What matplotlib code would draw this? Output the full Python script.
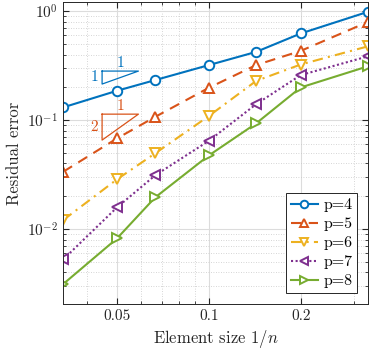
import numpy as np
import matplotlib
matplotlib.use('Agg')
import matplotlib.pyplot as plt
from matplotlib.ticker import FixedLocator, NullFormatter

plt.rcParams['font.family'] = ['cmr10', 'DejaVu Serif']
plt.rcParams['mathtext.fontset'] = 'cm'
plt.rcParams['axes.formatter.use_mathtext'] = True

# element counts n -> element size 1/n
n = np.array([30, 20, 15, 10, 7, 5, 3])
h = 1.0 / n

err_p4 = [0.131, 0.186, 0.233, 0.320, 0.423, 0.624, 0.99]
err_p5 = [0.0336, 0.0679, 0.107, 0.198, 0.320, 0.432, 0.80]
err_p6 = [0.0121, 0.0286, 0.0495, 0.109, 0.229, 0.324, 0.477]
err_p7 = [0.00527, 0.0158, 0.0311, 0.0646, 0.140, 0.259, 0.386]
err_p8 = [0.00313, 0.0082, 0.0195, 0.0474, 0.0933, 0.1995, 0.313]

labels = ['p=4', 'p=5', 'p=6', 'p=7', 'p=8']
colors = ['#0072BD', '#D95319', '#EDB120', '#7E2F8E', '#77AC30']
markers = ['o', '^', 'v', '<', '>']
styles = ['-', (0, (5, 3.5)), (0, (5, 2.5, 1, 2.5)), (0, (1, 1.2)), '-']

fig = plt.figure(figsize=(3.74, 3.54), dpi=100)
ax = fig.add_axes([0.169, 0.141, 0.816, 0.854])

for err, lab, c, m, ls in zip([err_p4, err_p5, err_p6, err_p7, err_p8],
                              labels, colors, markers, styles):
    ax.loglog(h, err, ls=ls, color=c, marker=m, mfc='white', mew=1.4,
              ms=6.8, lw=1.5, label=lab)

# slope triangles
def slope_tri(x0, x1, ytop, slope, c, lab_top, lab_left):
    ybot = ytop * (x0 / x1) ** slope
    ax.plot([x0, x1, x0, x0], [ytop, ytop, ybot, ytop], color=c, lw=0.9)
    ax.text(np.sqrt(x0 * x1), ytop * 1.03, lab_top, color=c, ha='center',
            va='bottom', fontsize=11)
    ax.text(x0 * 0.97, np.sqrt(ytop * ybot), lab_left, color=c, ha='right',
            va='center', fontsize=11)

slope_tri(0.0447, 0.0588, 0.282, 1, colors[0], '1', '1')
slope_tri(0.0447, 0.0588, 0.1135, 2, colors[1], '1', '2')

ax.set_xlim(1 / 30, 1 / 3)
ax.set_ylim(2.05e-3, 1.22)
ax.xaxis.set_major_locator(FixedLocator([0.05, 0.1, 0.2]))
ax.xaxis.set_minor_locator(FixedLocator([0.04, 0.06, 0.07, 0.08, 0.09, 0.3]))
ax.xaxis.set_major_formatter(matplotlib.ticker.FixedFormatter(['0.05', '0.1', '0.2']))
ax.xaxis.set_minor_formatter(NullFormatter())

ax.grid(True, which='major', color='#dcdcdc', lw=0.8, ls='-')
ax.grid(True, which='minor', color='#c8c8c8', lw=0.6, ls=(0, (1, 2)))
ax.set_axisbelow(True)
ax.tick_params(which='both', direction='in', top=True, right=True,
               colors='#262626', labelsize=11)
ax.tick_params(which='major', length=4)
ax.tick_params(which='minor', length=2)
for s in ax.spines.values():
    s.set_color('#262626')
    s.set_linewidth(0.7)

ax.set_xlabel('Element size $1/n$', fontsize=12, color='#262626')
ax.set_ylabel('Residual error', fontsize=12, color='#262626')

leg = ax.legend(loc='lower right', fontsize=11.5, fancybox=False,
                edgecolor='#262626', framealpha=1, handlelength=1.7,
                handletextpad=0.35, borderpad=0.3, labelspacing=0.3,
                borderaxespad=0.7, markerscale=0.8)
leg.get_frame().set_linewidth(0.7)

fig.savefig('out.png', dpi=100)
